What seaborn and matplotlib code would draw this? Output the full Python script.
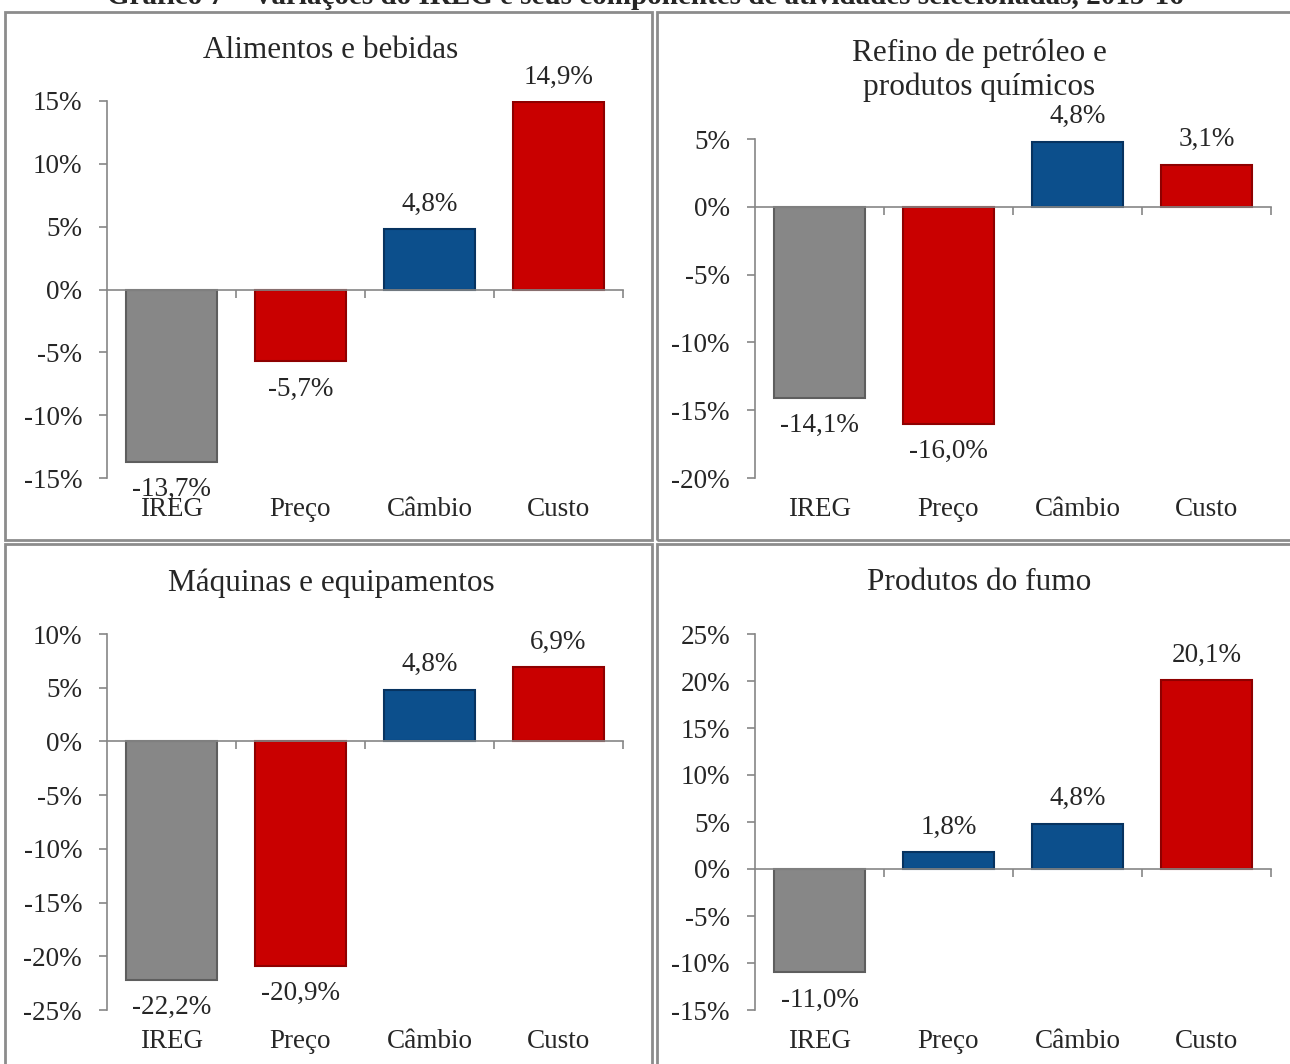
import numpy as np
import pandas as pd
import matplotlib.pyplot as plt
import seaborn as sns
from matplotlib.patches import Rectangle

sns.set_style("white")
plt.rcParams['font.family'] = ['Liberation Serif', 'DejaVu Serif']
plt.rcParams['axes.unicode_minus'] = False

# data
componentes = ["IREG", "Preço", "Câmbio", "Custo"]
titulos = ["Alimentos e bebidas", "Refino de petróleo e\nprodutos químicos",
           "Máquinas e equipamentos", "Produtos do fumo"]
alimentos = [-13.7, -5.7, 4.8, 14.9]
refino = [-14.1, -16.0, 4.8, 3.1]
maquinas = [-22.2, -20.9, 4.8, 6.9]
fumo = [-11.0, 1.8, 4.8, 20.1]
cores_alimentos = ["gray", "red", "blue", "red"]
cores_refino = ["gray", "red", "blue", "red"]
cores_maquinas = ["gray", "red", "blue", "red"]
cores_fumo = ["gray", "blue", "blue", "red"]
yticks_alimentos = [-15, -10, -5, 0, 5, 10, 15]
yticks_refino = [-20, -15, -10, -5, 0, 5]
yticks_maquinas = [-25, -20, -15, -10, -5, 0, 5, 10]
yticks_fumo = [-15, -10, -5, 0, 5, 10, 15, 20, 25]

paleta = {"gray": "#878787", "red": "#c90000", "blue": "#0c4f8c"}
bordas = {"gray": "#5e5e5e", "red": "#8e0000", "blue": "#073360"}

fig = plt.figure(figsize=(12.9, 10.64), dpi=100)
W, H = 1290, 1064

def px(x0, y_top, x1, y_bot):
    return [x0 / W, 1 - y_bot / H, (x1 - x0) / W, (y_bot - y_top) / H]

paineis = [
    (alimentos, cores_alimentos, yticks_alimentos, px(107, 101, 623, 478)),
    (refino, cores_refino, yticks_refino, px(755, 139, 1271, 478)),
    (maquinas, cores_maquinas, yticks_maquinas, px(107, 634, 623, 1010)),
    (fumo, cores_fumo, yticks_fumo, px(755, 634, 1271, 1010)),
]

fs = 19.5
axis_col = "#868686"
for (vals, cores, yt, pos), tit in zip(paineis, titulos):
    ax = fig.add_axes(pos)
    df = pd.DataFrame({"comp": componentes, "val": vals, "cor": cores})
    sns.barplot(data=df, x="comp", y="val", hue="comp",
                palette=[paleta[c] for c in cores], width=0.7,
                legend=False, ax=ax, saturation=1)
    for patch, c in zip(ax.patches, cores):
        patch.set_edgecolor(bordas[c])
        patch.set_linewidth(1.5)
    ax.set_xlim(-0.5, 3.5)
    ax.set_ylim(yt[0], yt[-1])
    ax.set_yticks(yt)
    ax.set_yticklabels([f"{t}%" for t in yt], fontsize=fs)
    ax.set_xlabel("")
    ax.set_ylabel("")
    for s in ["top", "right"]:
        ax.spines[s].set_visible(False)
    ax.spines["left"].set_color(axis_col)
    ax.spines["bottom"].set_color(axis_col)
    ax.spines["bottom"].set_position(("data", 0))
    ax.spines["left"].set_linewidth(1.2)
    ax.spines["bottom"].set_linewidth(1.2)
    ax.set_xticks([0.5, 1.5, 2.5, 3.5])
    ax.set_xticklabels([])
    ax.tick_params(axis="both", direction="out", length=6, width=1.2,
                   color=axis_col, left=True, bottom=True)
    ax.tick_params(axis="y", pad=12)
    ax.set_zorder(1)
    for i, (c, v) in enumerate(zip(componentes, vals)):
        ax.annotate(c, (i, 0), xycoords=("data", "axes fraction"),
                    xytext=(0, -23), textcoords="offset points",
                    ha="center", va="center", fontsize=fs)
        off = 18 if v >= 0 else -20
        ax.annotate(f"{v:.1f}%".replace(".", ","), (i, v), xytext=(0, off),
                    textcoords="offset points", ha="center", va="center",
                    fontsize=fs)

# titles of the panels
tfs = 22.5
fig.text(331 / W, 1 - 51 / H, titulos[0], ha="center", va="center", fontsize=tfs)
fig.text(979 / W, 1 - 70 / H, titulos[1], ha="center", va="center", fontsize=tfs,
         linespacing=1.2)
fig.text(331 / W, 1 - 583 / H, titulos[2], ha="center", va="center", fontsize=tfs)
fig.text(979 / W, 1 - 583 / H, titulos[3], ha="center", va="center", fontsize=tfs)

# panel frames
for x0, y0, x1, y1 in [(5, 12, 652, 540), (657, 12, 1300, 540),
                       (5, 544, 652, 1070), (657, 544, 1300, 1070)]:
    fig.patches.append(Rectangle((x0 / W, 1 - y1 / H), (x1 - x0) / W, (y1 - y0) / H,
                                 transform=fig.transFigure, fill=False,
                                 edgecolor="#8c8c8c", linewidth=2))

fig.text(0.5, 1 - 4 / H,
         "Gráfico 7 – Variações do IREG e seus componentes de atividades selecionadas, 2015-16",
         ha="center", va="baseline", fontsize=21, fontweight="bold")

fig.savefig("out.png", dpi=100)
